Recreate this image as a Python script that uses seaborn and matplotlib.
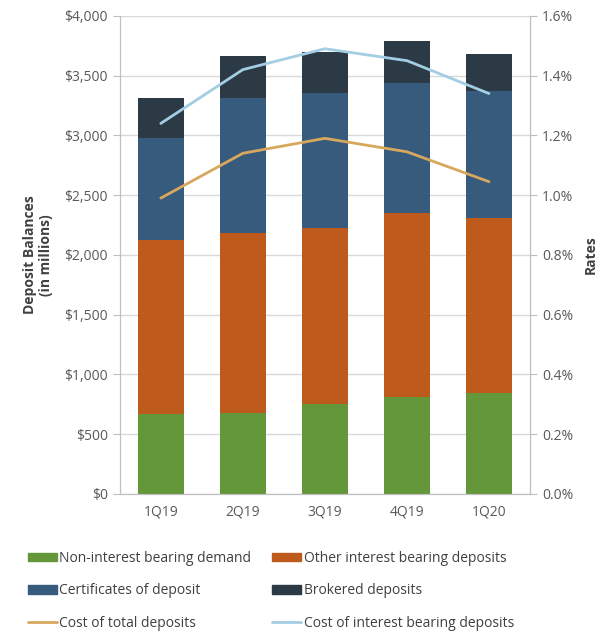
import matplotlib
matplotlib.use("Agg")
import numpy as np
import pandas as pd
import seaborn as sns
import matplotlib.pyplot as plt
from matplotlib.patches import Patch
from matplotlib.lines import Line2D
from matplotlib.ticker import FuncFormatter, FixedLocator

quarters = ["1Q19", "2Q19", "3Q19", "4Q19", "1Q20"]
non_interest = [665, 680, 755, 810, 845]
other_interest = [1460, 1505, 1470, 1540, 1465]
certificates = [855, 1130, 1130, 1090, 1060]
brokered = [335, 345, 345, 350, 310]
cost_total = [0.99, 1.14, 1.19, 1.145, 1.045]
cost_interest = [1.24, 1.42, 1.49, 1.45, 1.34]

series_names = ["Non-interest bearing demand", "Other interest bearing deposits",
                "Certificates of deposit", "Brokered deposits"]
series_colors = ["#64973A", "#BD5A1C", "#375B7D", "#2C3A46"]
line_colors = ["#D8A75E", "#A3CDE3"]
grey = "#595959"

sns.set_style("white")
plt.rcParams["font.family"] = ["Open Sans", "DejaVu Sans"]

df = pd.DataFrame({"quarter": quarters})
stack = np.vstack([non_interest, other_interest, certificates, brokered])
cum = np.cumsum(stack, axis=0)

fig = plt.figure(figsize=(6.05, 6.34), dpi=100)
ax = fig.add_axes([0.198, 0.221, 0.678, 0.754])

# draw from the tallest layer down so each segment shows
for i in range(3, -1, -1):
    df["v"] = cum[i]
    sns.barplot(data=df, x="quarter", y="v", color=series_colors[i],
                width=0.56, saturation=1, linewidth=0, edgecolor="none", ax=ax)

ax.set_ylim(0, 4000)
ax.set_xlim(-0.5, 4.5)
ax.yaxis.set_major_locator(FixedLocator(np.arange(0, 4001, 500)))
ax.yaxis.set_major_formatter(FuncFormatter(lambda v, p: f"${v:,.0f}"))
ax.grid(axis="y", color="#D9D9D9", linewidth=1)
ax.set_axisbelow(True)
ax.set_xlabel("")
ax.set_ylabel("Deposit Balances\n(in millions)", fontsize=10, fontweight="bold",
              color="#404040", labelpad=8)
ax.tick_params(axis="both", colors=grey, labelsize=10)
ax.tick_params(axis="y", length=5, color="#BFBFBF")
ax.tick_params(axis="x", length=0, pad=8)
ax.set_xticks(np.arange(-0.5, 5, 1), minor=True)
ax.tick_params(axis="x", which="minor", length=5, color="#BFBFBF")
ax.spines["top"].set_visible(False)
for s in ["left", "bottom", "right"]:
    ax.spines[s].set_color("#BFBFBF")

ax2 = ax.twinx()
sns.lineplot(x=quarters, y=cost_total, color=line_colors[0], linewidth=2, ax=ax2)
sns.lineplot(x=quarters, y=cost_interest, color=line_colors[1], linewidth=2, ax=ax2)
ax2.set_ylim(0, 1.6)
ax2.set_xlim(-0.5, 4.5)
ax2.yaxis.set_major_locator(FixedLocator(np.arange(0, 1.61, 0.2)))
ax2.yaxis.set_major_formatter(FuncFormatter(lambda v, p: f"{v:.1f}%"))
ax2.set_ylabel("Rates", fontsize=10, fontweight="bold", color="#404040", labelpad=8)
ax2.tick_params(axis="y", colors=grey, labelsize=10, length=5, color="#BFBFBF")
ax2.spines["top"].set_visible(False)
for s in ["left", "bottom", "right"]:
    ax2.spines[s].set_color("#BFBFBF")

handles = [
    Patch(color=series_colors[0], label=series_names[0]),
    Patch(color=series_colors[2], label=series_names[2]),
    Line2D([], [], color=line_colors[0], lw=2, label="Cost of total deposits"),
    Patch(color=series_colors[1], label=series_names[1]),
    Patch(color=series_colors[3], label=series_names[3]),
    Line2D([], [], color=line_colors[1], lw=2, label="Cost of interest bearing deposits"),
]
fig.legend(handles=handles, ncol=2, loc="lower left", bbox_to_anchor=(0.034, -0.006),
           frameon=False, fontsize=10, handlelength=2.1, handleheight=0.55,
           handletextpad=0.2, columnspacing=1.5, labelspacing=1.25, borderpad=0,
           labelcolor="#404040")

fig.savefig("out.png", dpi=100)
